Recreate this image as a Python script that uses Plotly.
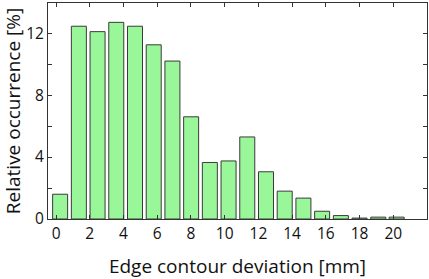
import plotly.graph_objects as go

# bin centres (mm) and relative occurrence (%)
bin_centers = [0.24, 1.35, 2.46, 3.57, 4.68, 5.79, 6.9, 8.01, 9.12, 10.23,
               11.34, 12.45, 13.56, 14.67, 15.78, 16.89, 18.0, 19.11, 20.2]
occurrence = [1.6, 12.45, 12.1, 12.7, 12.45, 11.25, 10.2, 6.6, 3.65, 3.75,
              5.3, 3.05, 1.8, 1.35, 0.5, 0.22, 0.06, 0.12, 0.12]
x_ticks = [0, 2, 4, 6, 8, 10, 12, 14, 16, 18, 20]
y_ticks = [0, 4, 8, 12]

fig = go.Figure()
fig.add_trace(go.Bar(x=bin_centers, y=occurrence, width=0.89,
                     marker=dict(color="#99f799",
                                 line=dict(color="#3a3a3a", width=1))))

axis_font = dict(family="Open Sans", size=15.5, color="#111")
title_font = dict(family="Open Sans", size=19, color="#111")
fig.update_xaxes(range=[-0.48, 22.0], tickvals=x_ticks, ticks="inside",
                 ticklen=4, tickcolor="#333", showline=True, linecolor="#333",
                 mirror="ticks", showgrid=False, zeroline=False,
                 tickfont=axis_font, automargin=False,
                 title=dict(text="Edge contour deviation [mm]",
                            font=title_font, standoff=17))
fig.update_yaxes(range=[0, 13.95], tickvals=y_ticks, ticks="inside",
                 ticklen=4, tickcolor="#333", showline=True, linecolor="#333",
                 mirror="ticks", showgrid=False, zeroline=False,
                 tickfont=axis_font, automargin=False,
                 minor=dict(dtick=2, ticks="inside", ticklen=4, tickcolor="#333"),
                 title=dict(text="Relative occurrence [%]",
                            font=title_font, standoff=6))
fig.update_layout(width=429, height=279, plot_bgcolor="white",
                  paper_bgcolor="white", showlegend=False,
                  margin=dict(l=48, r=2, t=3, b=60))
# the page's default body margin would shift the figure by 8px
fig.write_html("out.html", config={"displayModeBar": False},
               post_script="document.body.style.margin='0';")
